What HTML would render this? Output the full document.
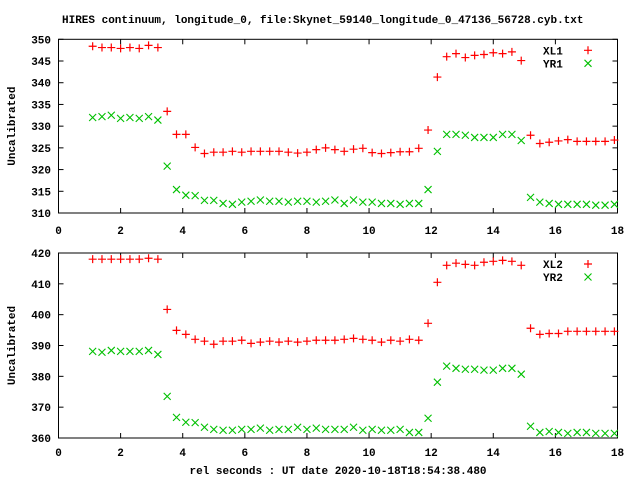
<!DOCTYPE html>
<html><head><meta charset="utf-8"><style>
html,body{margin:0;padding:0;background:#fff;}
svg text{font-family:"Liberation Mono",monospace;font-weight:bold;font-size:11px;fill:#000;}
</style></head><body>
<svg id="chart" width="640" height="480" viewBox="0 0 640 480" xmlns="http://www.w3.org/2000/svg">
<rect width="640" height="480" fill="#fff"/>
<text x="62" y="23">HIRES continuum, longitude_0, file:Skynet_59140_longitude_0_47136_56728.cyb.txt</text>
<text x="338" y="474" text-anchor="middle">rel seconds : UT date 2020-10-18T18:54:38.480</text>
<g id="plots"></g>
</svg>
<script>
const times = [1.1,1.4,1.7,2.0,2.3,2.6,2.9,3.2,3.5,3.8,4.1,4.4,4.7,5.0,5.3,5.6,5.9,6.2,6.5,6.8,7.1,7.4,7.7,8.0,8.3,8.6,8.9,9.2,9.5,9.8,10.1,10.4,10.7,11.0,11.3,11.6,11.9,12.2,12.5,12.8,13.1,13.4,13.7,14.0,14.3,14.6,14.9,15.2,15.5,15.8,16.1,16.4,16.7,17.0,17.3,17.6,17.9];
const xl1 = [348.4,348.1,348.1,347.9,348.1,347.9,348.6,348.1,333.4,328.1,328.1,325.1,323.7,324.0,324.0,324.2,324.0,324.2,324.2,324.2,324.2,324.0,323.8,324.0,324.6,325.0,324.6,324.2,324.7,324.9,323.9,323.7,323.9,324.1,324.1,324.9,329.1,341.3,346.0,346.7,345.8,346.3,346.5,346.9,346.7,347.1,345.1,327.9,326.0,326.3,326.6,326.9,326.5,326.5,326.5,326.5,326.8];
const yr1 = [332.0,332.2,332.5,331.8,332.0,331.8,332.2,331.4,320.8,315.4,314.1,314.0,312.9,312.9,312.2,312.0,312.5,312.7,313.0,312.7,312.7,312.5,312.7,312.7,312.5,312.7,313.0,312.2,313.0,312.5,312.5,312.2,312.2,312.0,312.2,312.2,315.4,324.2,328.1,328.1,327.9,327.4,327.4,327.4,328.1,328.1,326.7,313.6,312.5,312.2,312.0,312.0,312.0,312.0,311.8,311.8,312.0];
const xl2 = [418.0,418.0,418.0,418.0,418.0,418.0,418.3,418.0,401.7,394.9,393.6,392.0,391.4,390.4,391.4,391.4,391.7,390.7,391.1,391.4,391.1,391.4,391.1,391.4,391.7,391.7,391.7,392.0,392.3,392.0,391.7,391.1,391.7,391.4,392.0,391.7,397.2,410.5,416.0,416.7,416.3,416.0,417.0,417.3,417.6,417.3,416.0,395.6,393.6,393.9,393.9,394.6,394.6,394.6,394.6,394.6,394.6];
const yr2 = [388.1,387.8,388.4,388.1,388.1,388.1,388.4,387.1,373.5,366.7,365.1,365.0,363.5,362.8,362.5,362.5,362.8,362.8,363.2,362.5,362.8,362.8,363.5,362.8,363.2,362.8,362.8,362.8,363.5,362.5,362.8,362.5,362.5,362.8,361.8,361.8,366.4,378.1,383.3,382.6,382.3,382.3,382.0,382.0,382.6,382.6,380.7,363.8,361.8,362.1,361.8,361.5,361.8,361.8,361.5,361.5,361.5];
const xTicks = [0,2,4,6,8,10,12,14,16,18];
const yTicksTop = [310,315,320,325,330,335,340,345,350];
const yTicksBot = [360,370,380,390,400,410,420];

const NS = "http://www.w3.org/2000/svg";
const root = document.getElementById('plots');
function mk(tag, attrs, parent){const e=document.createElementNS(NS,tag);for(const k in attrs)e.setAttribute(k,attrs[k]);parent.appendChild(e);return e;}

function panel(name, top, bottom, ymin, ymax, yTicks, s1, s2, n1, n2, xlabY){
  const L=58.5, R=617.5;
  const g = mk('g',{},root);
  
  
  const sx = v => L + (v-0)/(18-0)*(R-L);
  const sy = v => bottom - (v-ymin)/(ymax-ymin)*(bottom-top);
  const frame = mk('rect',{x:L,y:top,width:R-L,height:bottom-top,fill:'none',stroke:'#000','stroke-width':1},g);
  
  
  xTicks.forEach(t=>{
    const x=sx(t);
    mk('line',{x1:x,y1:bottom,x2:x,y2:bottom-5,stroke:'#000'},g);
    mk('line',{x1:x,y1:top,x2:x,y2:top+5,stroke:'#000'},g);
    const tx=mk('text',{x:x,y:xlabY,'text-anchor':'middle'},g);
    tx.textContent=t;
    
    
  });
  yTicks.forEach(t=>{
    const y=sy(t);
    mk('line',{x1:L,y1:y,x2:L+5,y2:y,stroke:'#000'},g);
    mk('line',{x1:R,y1:y,x2:R-5,y2:y,stroke:'#000'},g);
    const tx=mk('text',{x:51,y:y+4,'text-anchor':'end'},g);
    tx.textContent=t;
    
    
  });
  const yl=mk('text',{x:0,y:0,'text-anchor':'middle',transform:`translate(15,${(top+bottom)/2}) rotate(-90)`},g);
  yl.textContent='Uncalibrated';
  
  
  function plus(x,y,parent){mk('path',{d:`M${x-4},${y}H${x+4}M${x},${y-4}V${y+4}`,stroke:'#ff0000','stroke-width':1.2,fill:'none'},parent);}
  function cross(x,y,parent){mk('path',{d:`M${x-3.5},${y-3.5}L${x+3.5},${y+3.5}M${x-3.5},${y+3.5}L${x+3.5},${y-3.5}`,stroke:'#00c000','stroke-width':1.1,fill:'none'},parent);}
  const g1=mk('g',{},g);
  
  
  const g2=mk('g',{},g);
  
  
  times.forEach((t,i)=>{ plus(sx(t),sy(s1[i]),g1); cross(sx(t),sy(s2[i]),g2); });
  const lg=mk('g',{},g);
  
  
  const t1=mk('text',{x:543,y:top+15},lg); t1.textContent=n1;
  
  
  const t2=mk('text',{x:543,y:top+28},lg); t2.textContent=n2;
  
  
  plus(588,top+11,lg); cross(588,top+24,lg);
}
panel('top-panel',39.3,213,310,350,yTicksTop,xl1,yr1,'XL1','YR1',234);
panel('bottom-panel',253,438,360,420,yTicksBot,xl2,yr2,'XL2','YR2',456);
</script>
</body></html>
